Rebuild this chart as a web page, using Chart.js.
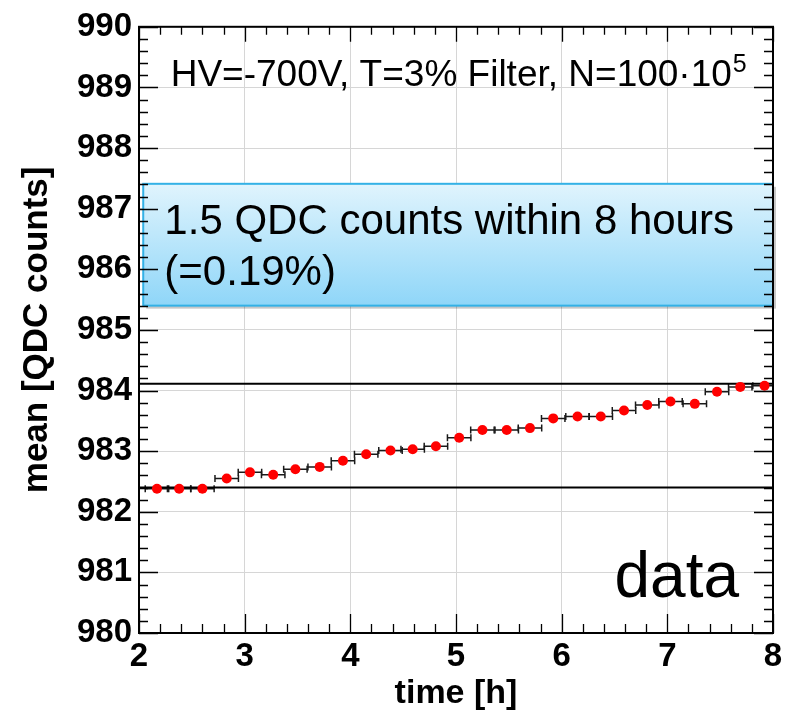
<!DOCTYPE html>
<html>
<head>
<meta charset="utf-8">
<script src="https://cdn.jsdelivr.net/npm/chart.js@4.4.0/dist/chart.umd.min.js"></script>
<style>
  body { margin: 0; background: #fff; }
  #qdcChart { display: block; }
</style>
</head>
<body>
<canvas id="qdcChart" width="790" height="710"></canvas>
<script>
// measured drift of the QDC mean
const timeH = [2.17, 2.38, 2.60, 2.83, 3.05, 3.27, 3.48, 3.71, 3.93, 4.15, 4.38, 4.59, 4.81, 5.03,
               5.25, 5.48, 5.70, 5.92, 6.15, 6.37, 6.59, 6.81, 7.03, 7.26, 7.47, 7.69, 7.92];
const meanQdc = [982.38, 982.38, 982.38, 982.55, 982.65, 982.61, 982.70, 982.74, 982.84, 982.95, 983.01, 983.03, 983.08, 983.22,
                 983.35, 983.35, 983.38, 983.54, 983.57, 983.57, 983.67, 983.76, 983.82, 983.78, 983.98, 984.06, 984.08];
const binHalfWidth = 0.111;
const refLevels = [982.40, 984.11];
const xTicks = [2, 3, 4, 5, 6, 7, 8];
const yTicks = [980, 981, 982, 983, 984, 985, 986, 987, 988, 989, 990];

const infoText = 'HV=-700V, T=3% Filter, N=100\u00b710';
const infoExp = '5';
const boxLines = ['1.5 QDC counts within 8 hours', '(=0.19%)'];
const dataLabel = 'data';

let ctxEl = document.querySelector('#qdcChart');

const points = timeH.map((t, i) => ({ x: t, y: meanQdc[i] }));
const refData = refLevels.map(v => [{ x: xTicks[0], y: v }, { x: xTicks[xTicks.length - 1], y: v }]);

// x error bars with end caps
const errorBars = {
  id: 'errorBars',
  beforeDatasetsDraw(chart) {
    const { ctx, chartArea: a, scales: { x, y } } = chart;
    ctx.save();
    ctx.beginPath();
    ctx.rect(a.left, a.top, a.right - a.left, a.bottom - a.top);
    ctx.clip();
    ctx.strokeStyle = '#1a1a1a';
    ctx.lineWidth = 1.5;
    timeH.forEach((t, i) => {
      const py = y.getPixelForValue(meanQdc[i]);
      const xl = x.getPixelForValue(t - binHalfWidth);
      const xr = x.getPixelForValue(t + binHalfWidth);
      ctx.beginPath();
      ctx.moveTo(xl, py); ctx.lineTo(xr, py);
      ctx.moveTo(xl, py - 3.5); ctx.lineTo(xl, py + 3.5);
      ctx.moveTo(xr, py - 3.5); ctx.lineTo(xr, py + 3.5);
      ctx.stroke();
    });
    ctx.restore();
  }
};

// text box and labels
const overlay = {
  id: 'overlay',
  afterDatasetsDraw(chart) {
    const { ctx, scales: { x, y } } = chart;
    ctx.save();
    // blue box
    const bx0 = x.getPixelForValue(2.04), bx1 = x.getPixelForValue(8.0);
    const by0 = y.getPixelForValue(987.41), by1 = y.getPixelForValue(985.40);
    ctx.fillStyle = 'rgba(0,0,0,0.22)';
    ctx.fillRect(bx0 + 3, by0 + 3, bx1 - bx0, by1 - by0);
    const grad = ctx.createLinearGradient(0, by0, 0, by1);
    grad.addColorStop(0, '#e0f4fd');
    grad.addColorStop(1, '#8fd6f8');
    ctx.fillStyle = grad;
    ctx.fillRect(bx0, by0, bx1 - bx0, by1 - by0);
    ctx.strokeStyle = '#33b1e6';
    ctx.lineWidth = 2;
    ctx.strokeRect(bx0, by0, bx1 - bx0, by1 - by0);

    ctx.fillStyle = '#000';
    ctx.textBaseline = 'alphabetic';
    ctx.textAlign = 'left';
    ctx.font = '42px "Liberation Sans", Arial, sans-serif';
    ctx.fillText(boxLines[0], x.getPixelForValue(2.24), y.getPixelForValue(986.58));
    ctx.fillText(boxLines[1], x.getPixelForValue(2.24), y.getPixelForValue(985.74));

    // info line with superscript
    ctx.font = '37px "Liberation Sans", Arial, sans-serif';
    const tx = x.getPixelForValue(2.30), ty = y.getPixelForValue(989.02);
    ctx.fillText(infoText, tx, ty);
    const w = ctx.measureText(infoText).width;
    ctx.font = '25px "Liberation Sans", Arial, sans-serif';
    ctx.fillText(infoExp, tx + w + 1, ty - 14);

    ctx.font = '64px "Liberation Sans", Arial, sans-serif';
    ctx.fillText(dataLabel, x.getPixelForValue(6.50), y.getPixelForValue(980.59));
    ctx.restore();
  }
};

// frame and inward ROOT-style ticks
const frame = {
  id: 'frame',
  afterDraw(chart) {
    const { ctx, chartArea: a, scales: { x, y } } = chart;
    ctx.save();
    ctx.strokeStyle = '#000';
    ctx.lineWidth = 1.3;
    ctx.beginPath();
    for (let v = xTicks[0]; v <= xTicks[xTicks.length - 1] + 1e-6; v += 0.2) {
      const px = Math.round(x.getPixelForValue(v)) + 0.5;
      const major = Math.abs(v - Math.round(v)) < 1e-6;
      const len = major ? 19 : 9;
      ctx.moveTo(px, a.bottom); ctx.lineTo(px, a.bottom - len);
      ctx.moveTo(px, a.top); ctx.lineTo(px, a.top + (major ? 15 : 8));
    }
    for (let v = yTicks[0]; v <= yTicks[yTicks.length - 1] + 1e-6; v += 0.2) {
      const py = Math.round(y.getPixelForValue(v)) + 0.5;
      const major = Math.abs(v - Math.round(v)) < 1e-6;
      const len = major ? 19 : 9;
      ctx.moveTo(a.left, py); ctx.lineTo(a.left + len, py);
      ctx.moveTo(a.right, py); ctx.lineTo(a.right - len, py);
    }
    ctx.stroke();
    ctx.lineWidth = 2;
    ctx.strokeRect(a.left, a.top, a.right - a.left, a.bottom - a.top);
    ctx.restore();
  }
};

const data = {
  datasets: [
    {
      label: 'data',
      data: points,
      showLine: false,
      pointRadius: 5,
      pointBorderWidth: 0,
      pointBackgroundColor: '#ff0000',
      pointBorderColor: '#ff0000'
    },
    {
      label: 'upper',
      type: 'line',
      data: refData[1],
      borderColor: '#000',
      borderWidth: 2,
      pointRadius: 0
    },
    {
      label: 'lower',
      type: 'line',
      data: refData[0],
      borderColor: '#000',
      borderWidth: 2,
      pointRadius: 0
    }
  ]
};

const config = {
  type: 'scatter',
  data: data,
  options: {
    responsive: false,
    animation: false,
    devicePixelRatio: 1,
    layout: { padding: { top: 23, right: 17, left: 0, bottom: 0 } },
    plugins: {
      legend: { display: false },
      tooltip: { enabled: false }
    },
    scales: {
      x: {
        type: 'linear',
        min: 2,
        max: 8,
        afterFit(scale) { scale.height = 77; },
        afterBuildTicks(scale) { scale.ticks = xTicks.map(v => ({ value: v })); },
        grid: { color: '#d6d6d6', lineWidth: 1, drawTicks: false },
        border: { display: false },
        ticks: {
          autoSkip: false,
          maxRotation: 0,
          padding: 4,
          color: '#000',
          font: { family: '"Liberation Sans", Arial, sans-serif', size: 33, weight: 'bold' }
        },
        title: {
          display: true,
          text: 'time [h]',
          color: '#000',
          padding: { top: 0, bottom: 0 },
          font: { family: '"Liberation Sans", Arial, sans-serif', size: 34, weight: 'bold', lineHeight: 0.95 }
        }
      },
      y: {
        min: 980,
        max: 990,
        afterFit(scale) { scale.width = 139; },
        afterBuildTicks(scale) { scale.ticks = yTicks.map(v => ({ value: v })); },
        grid: { color: '#d6d6d6', lineWidth: 1, drawTicks: false },
        border: { display: false },
        ticks: {
          padding: 7,
          color: '#000',
          font: { family: '"Liberation Sans", Arial, sans-serif', size: 33, weight: 'bold' }
        },
        title: {
          display: true,
          text: 'mean [QDC counts]',
          color: '#000',
          padding: { top: 20, bottom: 0 },
          font: { family: '"Liberation Sans", Arial, sans-serif', size: 35, weight: 'bold', lineHeight: 1 }
        }
      }
    }
  },
  plugins: [errorBars, overlay, frame]
};

const chart = new Chart(ctxEl, config);
</script>
</body>
</html>
